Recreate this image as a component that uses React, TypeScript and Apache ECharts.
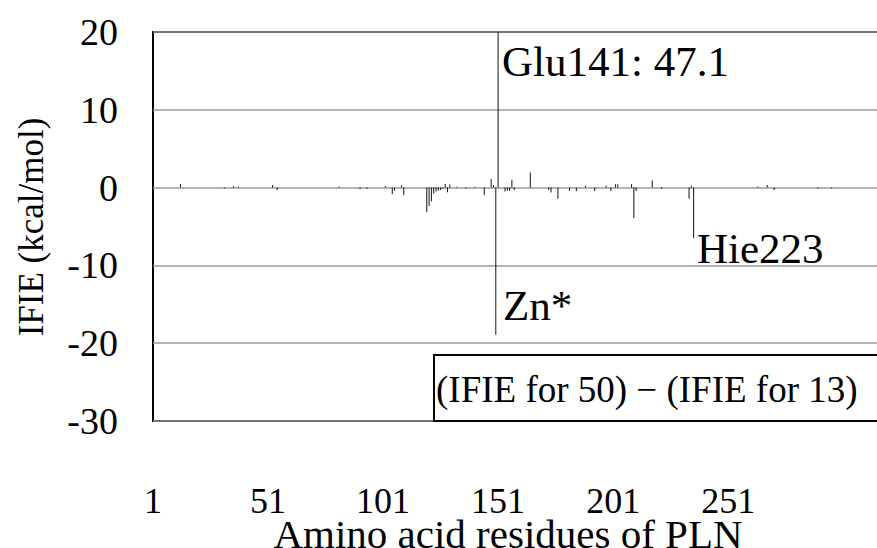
import React, { useEffect, useRef } from "react";
import * as echarts from "echarts";

// Residue index along the PLN sequence and the IFIE difference (kcal/mol)
const residueIndex = [
  13, 32, 36, 38, 53, 55, 82, 91, 94, 102, 105, 106, 109, 110, 120, 121, 122,
  123, 124, 125, 126, 127, 128, 129, 130, 133, 137, 141, 145, 148, 149, 150,
  151, 154, 155, 156, 157, 158, 165, 173, 174, 177, 182, 185, 189, 193, 198,
  200, 202, 203, 209, 210, 211, 218, 222, 234, 235, 236, 264, 268, 271, 290,
  296,
];
const ifieDiff = [
  0.47, -0.1, 0.2, 0.15, 0.34, -0.3, 0.15, -0.2, -0.15, 0.2, -0.86, -0.4, 0.3,
  -0.95, -3.15, -2.36, -1.75, -0.77, -0.5, -0.39, -0.3, -0.15, 0.47, -0.6,
  0.39, 0.1, -0.1, 0.12, -0.94, 1.11, 0.34, -18.9, 47.1, -0.5, -0.4, -0.4, 1.0,
  -0.32, 1.95, -0.32, -0.64, -1.44, -0.45, -0.45, 0.2, -0.45, 0.25, -0.45,
  0.43, 0.43, 0.43, -3.95, -0.45, 0.9, -0.15, -1.44, 0.25, -6.5, 0.15, 0.34,
  -0.3, -0.1, -0.1,
];
const xTickLabels = [1, 51, 101, 151, 201, 251];

const FONT = "Liberation Serif, serif";

export default function App() {
  const ref = useRef<HTMLDivElement>(null);

  useEffect(() => {
    if (!ref.current) return;
    const chart = echarts.init(ref.current, undefined, { renderer: "svg" });
    const data = residueIndex.map((r, i) => [r, ifieDiff[i]]);

    const annotation = (text: string, x: number, y: number) => ({
      type: "text",
      z: 101,
      x,
      y,
      style: {
        text,
        fontSize: 43,
        fontFamily: FONT,
        fill: "#000",
        verticalAlign: "middle",
      },
    });

    chart.setOption({
      animation: false,
      backgroundColor: "#fff",
      textStyle: { fontFamily: FONT },
      grid: {
        left: 153,
        top: 32,
        right: -3,
        bottom: 127,
        show: true,
        borderColor: "#000",
        borderWidth: 2,
        backgroundColor: "transparent",
        outerBoundsMode: "none",
      },
      xAxis: {
        type: "value",
        min: 1,
        max: 317,
        axisLine: { show: false },
        axisTick: { show: false },
        splitLine: { show: false },
        axisLabel: {
          customValues: xTickLabels,
          margin: 62,
          fontSize: 36,
          fontFamily: FONT,
          color: "#000",
        },
      },
      yAxis: {
        type: "value",
        min: -30,
        max: 20,
        interval: 10,
        axisLine: { show: false },
        axisTick: { show: false },
        splitLine: { show: true, lineStyle: { color: "#9a9a9a", width: 1.5 } },
        axisLabel: {
          margin: 35,
          fontSize: 38,
          fontFamily: FONT,
          color: "#000",
        },
      },
      series: [
        {
          type: "bar",
          data,
          barWidth: 1,
          clip: true,
          itemStyle: { color: "#111" },
        },
      ],
      graphic: [
        {
          type: "text",
          x: 508,
          y: 534,
          style: {
            text: "Amino acid residues of PLN",
            fontSize: 41,
            lineHeight: 26,
            fontFamily: FONT,
            fill: "#000",
            align: "center",
            verticalAlign: "middle",
          },
        },
        {
          type: "text",
          x: 31,
          y: 227,
          rotation: Math.PI / 2,
          style: {
            text: "IFIE (kcal/mol)",
            fontSize: 35,
            fontFamily: FONT,
            fill: "#000",
            align: "center",
            verticalAlign: "middle",
          },
        },
        {
          type: "rect",
          z: 100,
          shape: { x: 434, y: 355, width: 460, height: 66 },
          style: { fill: "#fff", stroke: "#000", lineWidth: 2 },
        },
        {
          type: "text",
          z: 101,
          x: 436,
          y: 389,
          style: {
            text: "(IFIE for 50) \u2212 (IFIE for 13)",
            fontSize: 37,
            fontFamily: FONT,
            fill: "#000",
            verticalAlign: "middle",
          },
        },
        annotation("Glu141: 47.1", 502, 61),
        annotation("Zn*", 503, 305),
        annotation("Hie223", 697, 248),
      ],
    });

    return () => chart.dispose();
  }, []);

  return (
    <div
      ref={ref}
      style={{ position: "fixed", left: 0, top: 0, width: 877, height: 548 }}
    />
  );
}
